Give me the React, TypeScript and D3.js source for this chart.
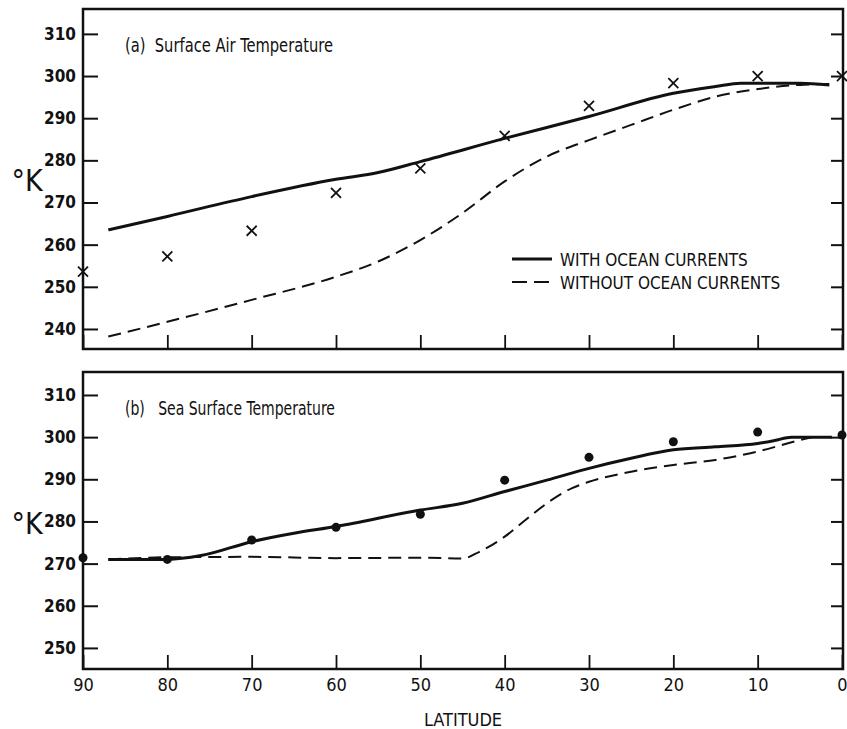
import React, { useEffect, useRef } from 'react';
import * as d3 from 'd3';

// latitude axis
const latTicks = [90, 80, 70, 60, 50, 40, 30, 20, 10, 0];
const airTicks = [240, 250, 260, 270, 280, 290, 300, 310];
const seaTicks = [250, 260, 270, 280, 290, 300, 310];

// (a) surface air temperature
const airWithLat = [87, 80, 70, 60, 55, 50, 40, 30, 20, 15, 12, 5, 1.5];
const airWithVal = [263.5, 266.7, 271.4, 275.5, 277.1, 279.7, 285.2, 290.4, 295.9, 297.5, 298.3, 298.3, 297.9];
const airWithoutLat = [87, 80, 70, 60, 55, 50, 45, 40, 35, 30, 25, 20, 15, 10, 5, 1.2];
const airWithoutVal = [238.2, 241.7, 246.9, 252.4, 256.0, 261.1, 267.5, 275.0, 280.9, 284.8, 288.4, 292.0, 295.1, 296.9, 297.9, 298.1];
const airObsLat = [90, 80, 70, 60, 50, 40, 30, 20, 10, 0];
const airObsVal = [253.6, 257.2, 263.3, 272.3, 278.1, 285.8, 292.9, 298.3, 300.0, 300.0];

// (b) sea surface temperature
const seaWithLat = [87, 80, 76, 70, 65, 60, 50, 45, 40, 35, 30, 25, 20, 15, 10, 8, 6, 1.2];
const seaWithVal = [271.0, 271.0, 271.9, 275.2, 277.2, 278.8, 282.7, 284.3, 287.1, 289.8, 292.6, 295.0, 297.0, 297.7, 298.5, 299.2, 300.0, 300.0];
const seaWithoutLat = [87, 80, 70, 60, 50, 45, 43, 40, 37.5, 35, 32, 30, 25, 20, 15, 10, 5, 3.5];
const seaWithoutVal = [271.0, 271.5, 271.6, 271.3, 271.4, 271.2, 272.8, 276.4, 280.4, 284.3, 287.9, 289.4, 291.8, 293.4, 294.6, 296.6, 299.3, 300.0];
const seaObsLat = [90, 80, 70, 60, 50, 40, 30, 20, 10, 0];
const seaObsVal = [271.4, 271.0, 275.6, 278.6, 281.7, 289.8, 295.2, 298.9, 301.2, 300.5];

const legendLabels = ['WITH OCEAN CURRENTS', 'WITHOUT OCEAN CURRENTS'];

const FONT = "'Liberation Sans Narrow', 'DejaVu Sans Condensed', 'Arial Narrow', sans-serif";

const App = () => {
  const svgRef = useRef<SVGSVGElement>(null);

  useEffect(() => {
    const svg = d3.select(svgRef.current);
    svg.selectAll('*').remove();

    const left = 83;
    const right = 843;
    const x = d3.scaleLinear().domain([90, 0]).range([left, right - 1]);

    const zip = (lats: number[], vals: number[]) => lats.map((d, i) => [d, vals[i]] as [number, number]);

    const panels = [
      {
        top: 9, bottom: 349, domain: [235.25, 315.9], ticks: airTicks,
        title: '(a)  Surface Air Temperature', titleLen: 208, unitY: 180,
        withData: zip(airWithLat, airWithVal), withoutData: zip(airWithoutLat, airWithoutVal),
        obs: zip(airObsLat, airObsVal), marker: 'cross', xLabels: false,
      },
      {
        top: 372, bottom: 669, domain: [245.0, 315.45], ticks: seaTicks,
        title: '(b)   Sea Surface Temperature', titleLen: 210, unitY: 523,
        withData: zip(seaWithLat, seaWithVal), withoutData: zip(seaWithoutLat, seaWithoutVal),
        obs: zip(seaObsLat, seaObsVal), marker: 'dot', xLabels: true,
      },
    ];

    panels.forEach(p => {
      const y = d3.scaleLinear().domain(p.domain).range([p.bottom, p.top]);
      const g = svg.append('g');

      // axes
      const ya = g.append('g')
        .attr('transform', `translate(${left},0)`)
        .call(d3.axisLeft(y).tickValues(p.ticks).tickSize(-15).tickSizeOuter(0).tickPadding(7));
      ya.select('.domain').remove();
      ya.selectAll('line').attr('stroke', '#111').attr('stroke-width', 2);
      ya.selectAll('text').attr('font-family', FONT).attr('font-size', 17).attr('font-weight', 600).attr('fill', '#111');

      const yr = g.append('g')
        .attr('transform', `translate(${right},0)`)
        .call(d3.axisRight(y).tickValues(p.ticks).tickSize(-12).tickSizeOuter(0).tickFormat(() => ''));
      yr.select('.domain').remove();
      yr.selectAll('line').attr('stroke', '#111').attr('stroke-width', 2);

      const xa = g.append('g')
        .attr('transform', `translate(0,${p.bottom})`)
        .call(d3.axisBottom(x).tickValues(latTicks).tickSize(-14).tickSizeOuter(0).tickPadding(9)
          .tickFormat(d => (p.xLabels ? String(d) : '')));
      xa.select('.domain').remove();
      xa.selectAll('line').attr('stroke', '#111').attr('stroke-width', 1.8);
      xa.selectAll('text').attr('font-family', FONT).attr('font-size', 18).attr('fill', '#111');

      // frame
      g.append('rect')
        .attr('x', left).attr('y', p.top)
        .attr('width', right - left).attr('height', p.bottom - p.top)
        .attr('fill', 'none').attr('stroke', '#111').attr('stroke-width', 2.5);

      g.append('text')
        .attr('x', 125).attr('y', p.top + 43)
        .attr('font-family', FONT).attr('font-size', 19).attr('fill', '#111')
        .attr('textLength', p.titleLen).attr('lengthAdjust', 'spacingAndGlyphs')
        .style('white-space', 'pre')
        .text(p.title);

      g.append('text')
        .attr('x', 27).attr('y', p.unitY)
        .attr('text-anchor', 'middle').attr('dominant-baseline', 'central')
        .attr('font-family', FONT).attr('font-size', 30).attr('fill', '#111')
        .text('°K');

      const line = d3.line<[number, number]>()
        .x(d => x(d[0]))
        .y(d => y(d[1]))
        .curve(d3.curveMonotoneX);

      g.append('path')
        .datum(p.withoutData)
        .attr('d', line)
        .attr('fill', 'none').attr('stroke', '#111').attr('stroke-width', 2)
        .attr('stroke-dasharray', '13,7');

      g.append('path')
        .datum(p.withData)
        .attr('d', line)
        .attr('fill', 'none').attr('stroke', '#111').attr('stroke-width', 3);

      if (p.marker === 'cross') {
        const s = 5;
        g.selectAll('.obs')
          .data(p.obs)
          .enter().append('path')
          .attr('d', d => {
            const cx = x(d[0]);
            const cy = y(d[1]);
            return `M${cx - s},${cy - s}L${cx + s},${cy + s}M${cx - s},${cy + s}L${cx + s},${cy - s}`;
          })
          .attr('stroke', '#111').attr('stroke-width', 1.8).attr('fill', 'none');
      } else {
        g.selectAll('.obs')
          .data(p.obs)
          .enter().append('circle')
          .attr('cx', d => x(d[0]))
          .attr('cy', d => y(d[1]))
          .attr('r', 4.5)
          .attr('fill', '#111');
      }

      // legend in panel (a)
      if (p.marker === 'cross') {
        legendLabels.forEach((label, i) => {
          const ly = 259 + i * 23;
          g.append('line')
            .attr('x1', 512).attr('x2', 552).attr('y1', ly).attr('y2', ly)
            .attr('stroke', '#111').attr('stroke-width', i === 0 ? 3 : 2.2)
            .attr('stroke-dasharray', i === 0 ? null : '15,7');
          g.append('text')
            .attr('x', 560).attr('y', ly + 6.5)
            .attr('font-family', FONT).attr('font-size', 17).attr('fill', '#111')
            .text(label);
        });
      }
    });

    svg.append('text')
      .attr('x', 463).attr('y', 726)
      .attr('text-anchor', 'middle')
      .attr('font-family', FONT).attr('font-size', 18).attr('fill', '#111')
      .text('LATITUDE');
  }, []);

  return (
    <svg
      ref={svgRef}
      width={847}
      height={729}
      style={{ position: 'absolute', left: 0, top: 0, background: '#fff' }}
    />
  );
};

export default App;
